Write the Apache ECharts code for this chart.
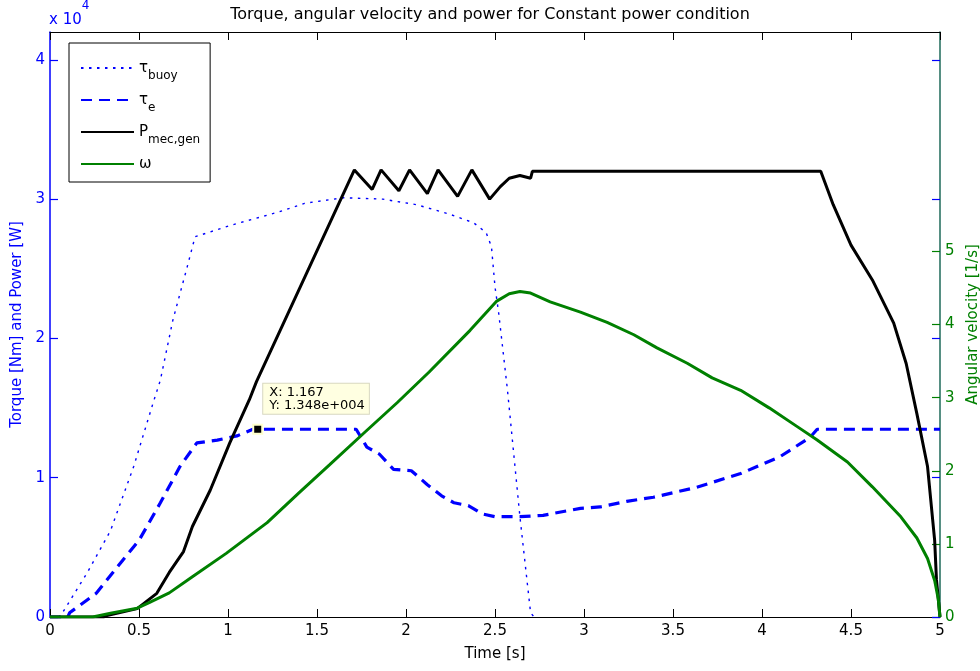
<!DOCTYPE html>
<html><head><meta charset="utf-8">
<script src="https://cdn.jsdelivr.net/npm/echarts@6/dist/echarts.min.js"></script>
<style>html,body{margin:0;padding:0;background:#fff}#c{width:980px;height:671px}</style>
</head><body><div id="c"></div>
<script>
// Time [s] and values (torque/power in N·m / W, omega in 1/s)
const tBuoy = [0, 0.05, 0.07, 0.21, 0.34, 0.47, 0.58, 0.62, 0.69, 0.77, 0.815, 1.01, 1.29, 1.43, 1.65, 1.87, 2.06, 2.25, 2.38, 2.45, 2.48, 2.5, 2.52, 2.57, 2.64, 2.70, 2.72];
const vBuoy = [0, 0, 300, 3200, 6200, 10800, 15400, 17000, 21300, 25100, 27300, 28100, 29100, 29700, 30100, 30000, 29600, 28900, 28300, 27600, 26600, 23700, 21900, 16300, 7200, 300, 0];

const tE = [0, 0.1, 0.11, 0.26, 0.41, 0.5, 0.62, 0.73, 0.825, 0.94, 1.05, 1.14, 1.72, 1.78, 1.85, 1.93, 2.03, 2.12, 2.2, 2.27, 2.35, 2.43, 2.5, 2.64, 2.77, 2.98, 3.09, 3.24, 3.39, 3.63, 3.88, 4.1, 4.27, 4.31, 5.0];
const vE = [0, 0, 300, 1700, 4100, 5500, 8200, 10800, 12500, 12700, 13000, 13480, 13480, 12200, 11700, 10600, 10500, 9500, 8700, 8200, 8000, 7400, 7200, 7200, 7300, 7800, 7900, 8300, 8600, 9300, 10300, 11500, 12900, 13480, 13480];

const tP = [0, 0.3, 0.32, 0.49, 0.6, 0.67, 0.75, 0.8, 0.9, 1.01, 1.12, 1.16, 1.71, 1.81, 1.86, 1.96, 2.02, 2.12, 2.18, 2.29, 2.37, 2.47, 2.53, 2.58, 2.64, 2.7, 2.71, 4.33, 4.4, 4.5, 4.62, 4.74, 4.81, 4.87, 4.93, 4.97, 4.98, 5.0];
const vP = [0, 0, 100, 600, 1700, 3200, 4700, 6500, 9100, 12500, 15600, 16900, 32100, 30700, 32100, 30600, 32100, 30400, 32100, 30200, 32100, 30000, 30900, 31500, 31700, 31500, 32000, 32000, 29600, 26700, 24200, 21100, 18200, 14600, 10800, 5500, 2700, 0];

const tW = [0, 0.24, 0.34, 0.49, 0.56, 0.67, 0.8, 0.99, 1.22, 1.4, 1.57, 1.77, 1.95, 2.13, 2.36, 2.51, 2.58, 2.64, 2.7, 2.81, 2.98, 3.13, 3.28, 3.41, 3.58, 3.72, 3.88, 4.04, 4.2, 4.31, 4.48, 4.62, 4.78, 4.87, 4.93, 4.97, 4.99, 5.0];
const vW = [0, 0, 0.05, 0.12, 0.2, 0.33, 0.55, 0.87, 1.29, 1.7, 2.08, 2.53, 2.93, 3.35, 3.92, 4.32, 4.42, 4.45, 4.43, 4.31, 4.17, 4.03, 3.86, 3.68, 3.47, 3.27, 3.1, 2.86, 2.6, 2.42, 2.12, 1.78, 1.37, 1.08, 0.8, 0.5, 0.25, 0];

const xTicks = [0, 0.5, 1, 1.5, 2, 2.5, 3, 3.5, 4, 4.5, 5];
const leftTicks = [0, 10000, 20000, 30000, 40000];
const rightTicks = [0, 1, 2, 3, 4, 5];
const tipX = 1.167, tipY = 13480;

const zip = (a, b) => a.map((t, i) => [t, b[i]]);
const BLUE = '#0000ff', GREEN = '#008000';
const FONT = 'DejaVu Sans';

const chart = echarts.init(document.getElementById('c'), null, {renderer: 'canvas'});
const rich = {
  m: {fontSize: 15, fontFamily: FONT, color: '#000', lineHeight: 20, verticalAlign: 'middle'},
  s: {fontSize: 12, fontFamily: FONT, color: '#000', lineHeight: 12, padding: [16, 0, 0, 0], verticalAlign: 'middle'}
};
chart.setOption({
  animation: false,
  backgroundColor: '#fff',
  title: {text: 'Torque, angular velocity and power for Constant power condition', left: 'center', top: 2,
    textStyle: {fontFamily: FONT, fontSize: 16, fontWeight: 'normal', color: '#000'}},
  grid: {left: 50, right: 40, top: 32, bottom: 54, containLabel: false, outerBoundsMode: 'none'},
  legend: {
    orient: 'vertical', left: 69, top: 43, itemWidth: 53, itemHeight: 14, itemGap: 4,
    padding: [11, 10, 4, 11], borderColor: '#000', borderWidth: 1, backgroundColor: '#fff',
    data: ['tb', 'te', 'P', 'w'],
    itemStyle: {opacity: 0},
    formatter: function (n) {
      if (n === 'tb') return '{m|τ}{s|buoy}';
      if (n === 'te') return '{m|τ}{s|e}';
      if (n === 'P') return '{m|P}{s|mec,gen}';
      return '{m|ω}{s| }';
    },
    textStyle: {rich: rich, fontFamily: FONT}
  },
  xAxis: [{
    type: 'value', min: 0, max: 5, interval: 0.5, position: 'bottom',
    name: 'Time [s]', nameLocation: 'middle', nameGap: 30,
    nameTextStyle: {fontFamily: FONT, fontSize: 15, color: '#000'},
    axisLine: {onZero: false, lineStyle: {color: '#000', width: 1}},
    axisTick: {show: true, inside: true, length: 8, lineStyle: {color: '#000'}, customValues: xTicks},
    axisLabel: {fontFamily: FONT, fontSize: 15, color: '#000', margin: 7, customValues: xTicks,
      formatter: v => String(v)},
    splitLine: {show: false}
  }, {
    type: 'value', min: 0, max: 5, interval: 0.5, position: 'top',
    axisLine: {onZero: false, lineStyle: {color: '#000', width: 1}},
    axisTick: {show: true, inside: true, length: 8, lineStyle: {color: '#000'}},
    axisLabel: {show: false}, splitLine: {show: false}
  }],
  yAxis: [{
    type: 'value', min: 0, max: 42000, interval: 10000, position: 'left',
    name: 'Torque [Nm] and Power [W]', nameLocation: 'middle', nameGap: 23, nameRotate: 90,
    nameTextStyle: {fontFamily: FONT, fontSize: 15, color: BLUE},
    axisLine: {show: true, onZero: false, lineStyle: {color: BLUE, width: 1.5}},
    axisTick: {show: true, inside: true, length: 8, lineStyle: {color: BLUE, width: 1.2}, customValues: leftTicks},
    axisLabel: {fontFamily: FONT, fontSize: 15, color: BLUE, margin: 5, customValues: leftTicks,
      formatter: v => String(v / 10000)},
    splitLine: {show: false}
  }, {
    type: 'value', min: 0, max: 8, interval: 1, position: 'right',
    name: 'Angular velocity [1/s]', nameLocation: 'middle', nameGap: 16, nameRotate: 90,
    nameTextStyle: {fontFamily: FONT, fontSize: 15, color: GREEN},
    axisLine: {show: true, onZero: false, lineStyle: {color: '#1e6a5a', width: 1.5}},
    axisTick: {show: true, inside: true, length: 8, lineStyle: {color: GREEN, width: 1.2}, customValues: rightTicks},
    axisLabel: {fontFamily: FONT, fontSize: 15, color: GREEN, margin: 5, customValues: rightTicks},
    splitLine: {show: false}
  }, {
    type: 'value', min: 0, max: 42000, interval: 10000, position: 'right',
    axisLine: {show: false, onZero: false},
    axisTick: {show: true, inside: true, length: 8, lineStyle: {color: BLUE, width: 1.2}, customValues: leftTicks},
    axisLabel: {show: false}, splitLine: {show: false}
  }],
  graphic: [{
    type: 'text', left: 49, top: 0,
    style: {text: '{a|x 10}{b|4}', rich: {
      a: {fontFamily: FONT, fontSize: 15, fill: BLUE, verticalAlign: 'bottom', lineHeight: 28},
      b: {fontFamily: FONT, fontSize: 12, fill: BLUE, verticalAlign: 'top', lineHeight: 14}
    }}
  }],
  series: [{
    name: 'tb', type: 'line', xAxisIndex: 0, yAxisIndex: 0, showSymbol: false, symbol: 'none',
    data: zip(tBuoy, vBuoy), lineStyle: {color: BLUE, width: 1.4, type: [2.5, 5.5]}, itemStyle: {color: BLUE}
  }, {
    name: 'te', type: 'line', xAxisIndex: 0, yAxisIndex: 0, showSymbol: false, symbol: 'none',
    data: zip(tE, vE), lineStyle: {color: BLUE, width: 3.2, type: [11, 7]}, itemStyle: {color: BLUE},
    markPoint: {
      symbol: 'rect', symbolSize: 9,
      itemStyle: {color: '#000', borderColor: '#ffffcc', borderWidth: 2},
      data: [{coord: [tipX, tipY]}],
      label: {show: true, position: [11, -40], formatter: 'X: 1.167\nY: 1.348e+004',
        fontFamily: FONT, fontSize: 13, color: '#000', lineHeight: 13,
        backgroundColor: '#ffffe1', borderColor: '#d8d8c0', borderWidth: 1, padding: [2, 4, 2, 6], align: 'left'}
    }
  }, {
    name: 'P', type: 'line', xAxisIndex: 0, yAxisIndex: 0, showSymbol: false, symbol: 'none',
    data: zip(tP, vP), lineStyle: {color: '#000', width: 3}, itemStyle: {color: '#000'}
  }, {
    name: 'w', type: 'line', xAxisIndex: 0, yAxisIndex: 1, showSymbol: false, symbol: 'none',
    data: zip(tW, vW), lineStyle: {color: GREEN, width: 3}, itemStyle: {color: GREEN}
  }]
});
</script></body></html>
